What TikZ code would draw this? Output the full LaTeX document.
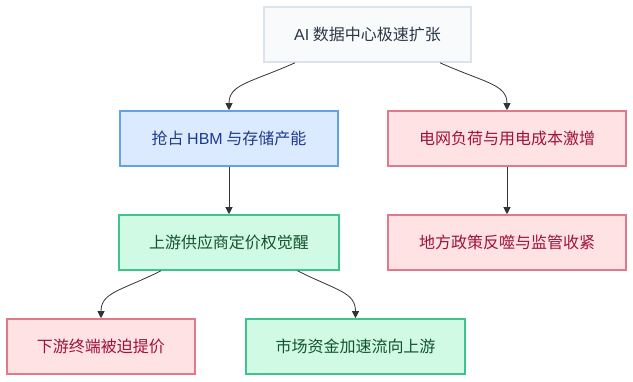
\documentclass[tikz,border=0pt]{standalone}
\usepackage{fontspec}
\setmainfont{Noto Sans CJK SC}
\newfontfamily\latinf{Liberation Sans}
\usetikzlibrary{arrows.meta}
\definecolor{topfill}{HTML}{F8FAFC}
\definecolor{topline}{HTML}{DCE3EB}
\definecolor{toptext}{HTML}{2D3748}
\definecolor{bluefill}{HTML}{DBEAFE}
\definecolor{blueline}{HTML}{62A3E8}
\definecolor{bluetext}{HTML}{1E3A8A}
\definecolor{redfill}{HTML}{FEE2E4}
\definecolor{redline}{HTML}{E07A8A}
\definecolor{redtext}{HTML}{9F1239}
\definecolor{greenfill}{HTML}{D1FAE5}
\definecolor{greenline}{HTML}{3EC38F}
\definecolor{greentext}{HTML}{14532D}
\definecolor{edgecol}{HTML}{333333}
\tikzset{
  box/.style={rectangle, line width=1.6pt, inner sep=0pt, font=\fontsize{16}{19}\selectfont},
  topbox/.style={box, fill=topfill, draw=topline, text=toptext},
  bluebox/.style={box, fill=bluefill, draw=blueline, text=bluetext},
  redbox/.style={box, fill=redfill, draw=redline, text=redtext},
  greenbox/.style={box, fill=greenfill, draw=greenline, text=greentext},
  conn/.style={draw=edgecol, line width=0.8pt, -{Triangle[length=7pt,width=7pt]}},
}
\begin{document}
\begin{tikzpicture}[x=1pt,y=-1pt]
\useasboundingbox (0,0) rectangle (633,382);
\fill[white] (0,0) rectangle (633,382);
\node[topbox, minimum width=207pt, minimum height=55pt] (a) at (367.5,34.5) {{\latinf AI} 数据中心极速扩张};
\node[bluebox, minimum width=218pt, minimum height=55pt] (b) at (229,138.5) {抢占 {\latinf HBM} 与存储产能};
\node[redbox, minimum width=238pt, minimum height=55pt] (c) at (507,138.5) {电网负荷与用电成本激增};
\node[greenbox, minimum width=220pt, minimum height=55pt] (d) at (229,242.5) {上游供应商定价权觉醒};
\node[redbox, minimum width=238pt, minimum height=55pt] (e) at (507,242.5) {地方政策反噬与监管收紧};
\node[redbox, minimum width=188pt, minimum height=55pt] (f) at (101,346.5) {下游终端被迫提价};
\node[greenbox, minimum width=219pt, minimum height=55pt] (g) at (355.5,346.5) {市场资金加速流向上游};
\coordinate (a1) at ([xshift=-72.5pt]a.south);
\coordinate (a2) at ([xshift=72.5pt]a.south);
\coordinate (d1) at ([xshift=-68pt]d.south);
\coordinate (d2) at ([xshift=68.5pt]d.south);
\draw[conn] (a1) .. controls ++(-45,20) and ([yshift=26pt]b.north) .. (b.north);
\draw[conn] (a2) .. controls ++(45,20) and ([yshift=26pt]c.north) .. (c.north);
\draw[conn] (b.south) -- (d.north);
\draw[conn] (c.south) -- (e.north);
\draw[conn] (d1) .. controls ++(-40,20) and ([yshift=26pt]f.north) .. (f.north);
\draw[conn] (d2) .. controls ++(40,20) and ([yshift=26pt]g.north) .. (g.north);
\end{tikzpicture}
\end{document}
